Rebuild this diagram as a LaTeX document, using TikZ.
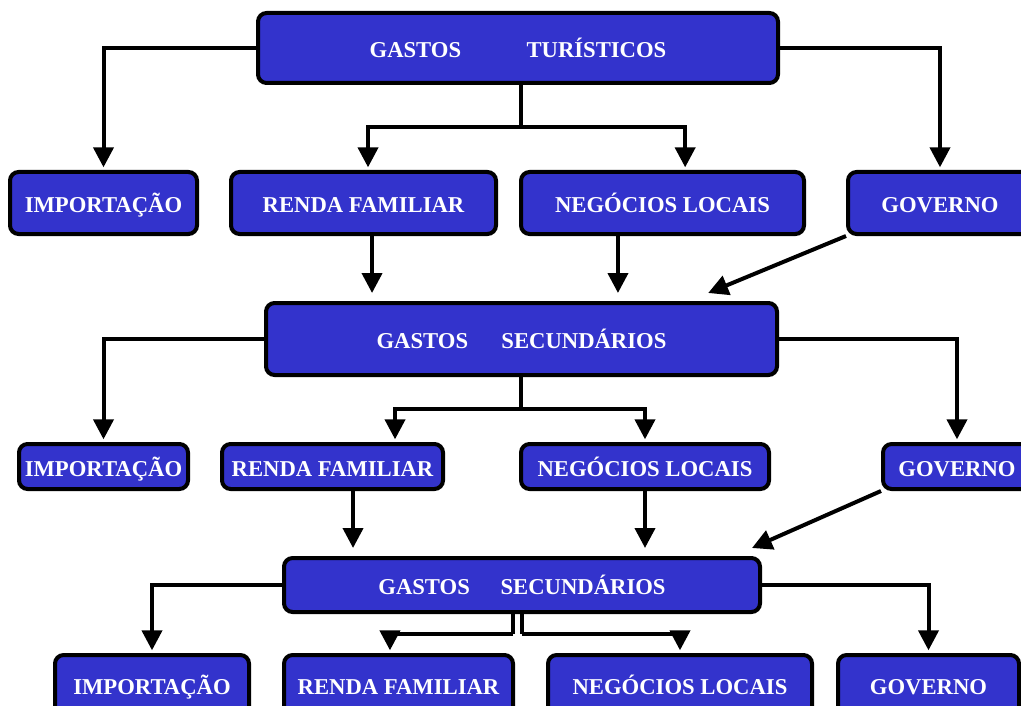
\documentclass[tikz,border=0pt]{standalone}
\usepackage{fontspec}
\setmainfont{Liberation Serif}
\usetikzlibrary{arrows.meta, positioning}
\definecolor{boxblue}{RGB}{51,51,204}

\begin{document}
\begin{tikzpicture}[x=0.75pt, y=-0.75pt,
  box/.style 2 args={draw=black, line width=3pt, fill=boxblue, rounded corners=6.5pt, text=white,
    font=\fontsize{17}{20}\selectfont\bfseries, inner sep=0pt, text height=17pt, text depth=2.7pt,
    minimum width=#1*0.75pt, minimum height=#2*0.75pt},
  link/.style={line width=3pt},
  arr/.style={link, -{Triangle[length=15pt, width=15pt]}, shorten >=2pt}]
\useasboundingbox (0,0) rectangle (1021,706);
\node[box={520}{70}] (gt) at (518,48) {GASTOS\hspace{49pt}TURÍSTICOS};
\node[box={187}{62}] (imp1) at (103.5,203) {IMPORTAÇÃO};
\node[box={265}{62}] (rf1) at (363.5,203) {RENDA FAMILIAR};
\node[box={283}{62}] (nl1) at (662.5,203) {NEGÓCIOS LOCAIS};
\node[box={184}{62}] (gov1) at (940,203) {GOVERNO};
\node[box={511}{72}] (sec1) at (521.5,339) {GASTOS\hspace{25pt}SECUNDÁRIOS};
\node[box={169}{45}] (imp2) at (103.5,466.5) {IMPORTAÇÃO};
\node[box={221}{45}] (rf2) at (332.5,466.5) {RENDA FAMILIAR};
\node[box={248}{45}] (nl2) at (645,466.5) {NEGÓCIOS LOCAIS};
\node[box={148}{45}] (gov2) at (957,466.5) {GOVERNO};
\node[box={476}{54}] (sec2) at (522,585) {GASTOS\hspace{23pt}SECUNDÁRIOS};
\node[box={194}{60}] (imp3) at (152,685) {IMPORTAÇÃO};
\node[box={229}{60}] (rf3) at (398.5,685) {RENDA FAMILIAR};
\node[box={264}{60}] (nl3) at (680,685) {NEGÓCIOS LOCAIS};
\node[box={181}{60}] (gov3) at (928.5,685) {GOVERNO};

\coordinate (j1) at (521,127);
\coordinate (j2) at (521,409);
\coordinate (j3a) at (513,634);
\coordinate (j3b) at (522,634);
\coordinate (rf1out) at ([xshift=6.4pt]rf1.south);
\coordinate (nl1out) at ([xshift=-33.4pt]nl1.south);
\coordinate (rf2out) at ([xshift=15.4pt]rf2.south);

\draw[arr] (gt.west) -| (imp1.north);
\draw[arr] (gt.east) -| (gov1.north);
\draw[link] (gt.south -| j1) -- (j1);
\draw[arr] (j1) -| ([xshift=3.4pt]rf1.north);
\draw[arr] (j1) -| ([xshift=17pt]nl1.north);
\draw[arr, shorten >=6pt] (rf1out) -- (rf1out |- sec1.north);
\draw[arr, shorten >=6pt] (nl1out) -- (nl1out |- sec1.north);
\draw[arr, shorten >=0pt] (gov1.south west) -- ([xshift=140pt, yshift=6pt]sec1.north);

\draw[arr] (sec1.west) -| (imp2.north);
\draw[arr] (sec1.east) -| (gov2.north);
\draw[link] (sec1.south -| j2) -- (j2);
\draw[arr] (j2) -| ([xshift=46.9pt]rf2.north);
\draw[arr] (j2) -| (nl2.north);
\draw[arr, shorten >=6pt] (rf2out) -- (rf2out |- sec2.north);
\draw[arr, shorten >=6pt] (nl2.south) -- (sec2.north -| nl2.south);
\draw[arr, shorten >=0pt] (gov2.south west) -- ([xshift=172.5pt, yshift=6pt]sec2.north);

\draw[arr] (sec2.west) -| (imp3.north);
\draw[arr] (sec2.east) -| (gov3.north);
\draw[link] (sec2.south -| j3a) -- (j3a);
\draw[link] (sec2.south -| j3b) -- (j3b);
\draw[arr] (j3a) -| ([xshift=-6.4pt]rf3.north);
\draw[arr] (j3b) -| (nl3.north);
\end{tikzpicture}
\end{document}
